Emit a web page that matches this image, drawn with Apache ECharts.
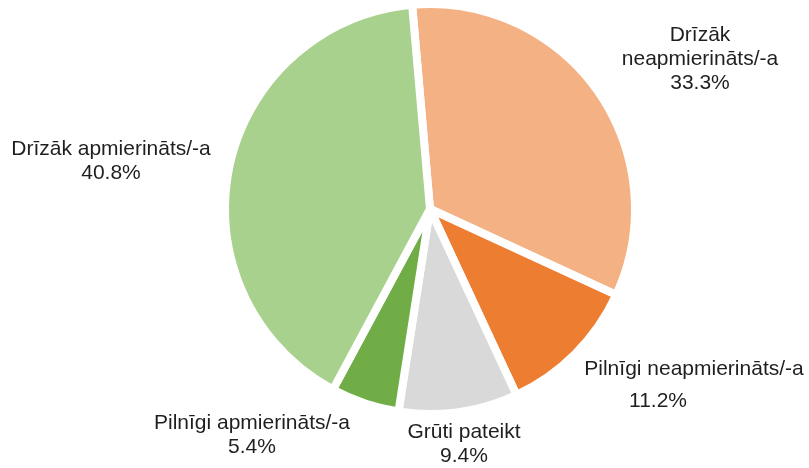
<!DOCTYPE html>
<html>
<head>
<meta charset="utf-8">
<script src="https://cdn.jsdelivr.net/npm/echarts@6/dist/echarts.min.js"></script>
<style>
  html, body { margin: 0; padding: 0; background: #fff; }
  #chart { width: 809px; height: 468px; }
</style>
</head>
<body>
<div id="chart"></div>
<script>
// dati (secībā pulksteņrādītāja virzienā no augšas)
const categories = ['Drīzāk neapmierināts/-a', 'Pilnīgi neapmierināts/‑a', 'Grūti pateikt', 'Pilnīgi apmierināts/-a', 'Drīzāk apmierināts/-a'];
const shares = [33.3, 11.2, 9.4, 5.4, 40.8];
const colors = ['#F4B183', '#ED7D31', '#D9D9D9', '#70AD47', '#A9D18E'];

// etiķešu novietojums (teksta bloka centrs)
const labelPos = [[700, 59], [694, 381], [464, 444], [252, 435], [111, 161]];

const chart = echarts.init(document.getElementById('chart'));
const font = 'Liberation Sans, Arial, sans-serif';

const option = {
  animation: false,
  series: [{
    type: 'pie',
    center: [430, 209],
    radius: 205,
    startAngle: 95,
    clockwise: true,
    data: categories.map((name, i) => ({
      name: name,
      value: shares[i],
      itemStyle: { color: colors[i] }
    })),
    itemStyle: { borderColor: '#fff', borderWidth: 8 },
    label: {
      show: true,
      position: 'outside',
      overflow: 'none',
      width: 400,
      fontFamily: font,
      fontSize: 21,
      lineHeight: 24,
      color: '#1f1f1f',
      align: 'center',
      formatter: function (p) {
        const pct = p.value.toFixed(1) + '%';
        if (p.dataIndex === 0) return 'Drīzāk\nneapmierināts/-a\n' + pct;
        if (p.dataIndex === 1) return '{a|' + p.name + '}\n{b|' + pct + '}';
        return p.name + '\n' + pct;
      },
      rich: {
        a: { fontSize: 21, lineHeight: 24, fontFamily: font, color: '#1f1f1f' },
        b: { fontSize: 21, lineHeight: 24, fontFamily: font, color: '#1f1f1f', padding: [16, 72, 0, 0] }
      }
    },
    labelLine: { show: false },
    labelLayout: function (params) {
      const pos = labelPos[params.dataIndex];
      return { x: pos[0], y: pos[1], align: 'center', verticalAlign: 'middle' };
    },
    emphasis: { disabled: true }
  }]
};

chart.setOption(option);
</script>
</body>
</html>
